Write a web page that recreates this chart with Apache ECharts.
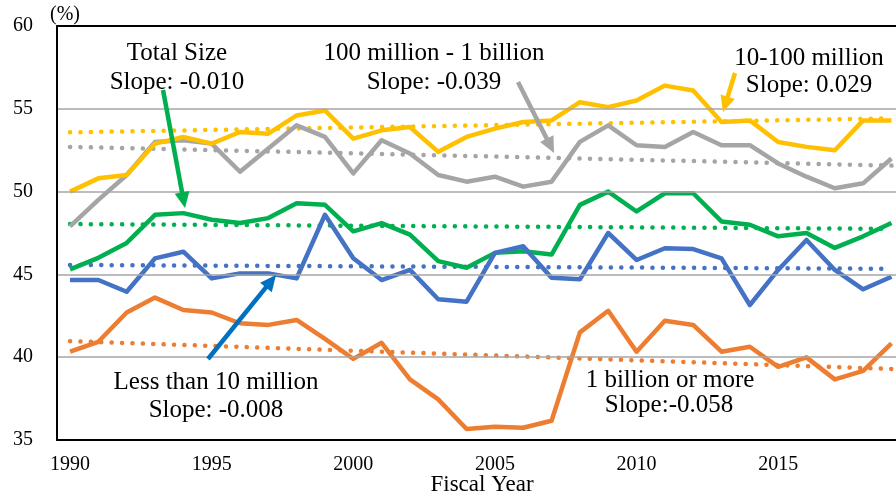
<!DOCTYPE html>
<html>
<head>
<meta charset="utf-8">
<title>Share by capital size, fiscal years 1990-2019</title>
<script src="https://cdn.jsdelivr.net/npm/echarts@6/dist/echarts.min.js"></script>
<style>
  html, body { margin: 0; padding: 0; background: #fff; }
  #chart { width: 896px; height: 500px; }
</style>
</head>
<body>
<div id="chart"></div>
<script>
// Fiscal years on the horizontal axis
const years = [1990, 1991, 1992, 1993, 1994, 1995, 1996, 1997, 1998, 1999,
               2000, 2001, 2002, 2003, 2004, 2005, 2006, 2007, 2008, 2009,
               2010, 2011, 2012, 2013, 2014, 2015, 2016, 2017, 2018, 2019];

// Labelled years and vertical axis ticks (%)
const xTickYears = [1990, 1995, 2000, 2005, 2010, 2015];
const yTicks = [35, 40, 45, 50, 55, 60];

// Shares by capital size (%)
const tenToHundredMillion = [50.0, 50.8, 51.0, 52.9, 53.3, 52.9, 53.6, 53.5, 54.6, 54.9,
                             53.2, 53.7, 53.9, 52.4, 53.3, 53.8, 54.2, 54.3, 55.4, 55.1,
                             55.5, 56.4, 56.1, 54.2, 54.3, 53.0, 52.7, 52.5, 54.3, 54.3];
const hundredMillionToBillion = [47.9, 49.5, 51.0, 53.0, 53.1, 52.9, 51.2, 52.6, 54.0, 53.3,
                                 51.1, 53.1, 52.3, 51.0, 50.6, 50.9, 50.3, 50.6, 53.0, 54.0,
                                 52.8, 52.7, 53.6, 52.8, 52.8, 51.7, 50.9, 50.2, 50.5, 52.0];
const totalSize = [45.3, 46.0, 46.9, 48.6, 48.7, 48.3, 48.1, 48.4, 49.3, 49.2,
                   47.6, 48.1, 47.4, 45.8, 45.4, 46.3, 46.4, 46.2, 49.2, 50.0,
                   48.8, 49.9, 49.9, 48.2, 48.0, 47.3, 47.5, 46.6, 47.3, 48.1];
const lessThanTenMillion = [44.66, 44.66, 43.95, 45.97, 46.37, 44.76, 45.06, 45.06, 44.76, 48.6,
                            45.97, 44.66, 45.27, 43.5, 43.35, 46.3, 46.7, 44.8, 44.7, 47.5,
                            45.87, 46.58, 46.53, 45.97, 43.15, 45.27, 47.08, 45.27, 44.1, 44.86];
const billionOrMore = [40.33, 40.93, 42.7, 43.6, 42.85, 42.7, 42.05, 41.95, 42.25, 41.1,
                       39.9, 40.87, 38.66, 37.45, 35.66, 35.8, 35.74, 36.16, 41.5, 42.8,
                       40.33, 42.2, 41.95, 40.33, 40.63, 39.42, 39.99, 38.66, 39.18, 40.83];

// Linear trend values at the first and last fiscal year
const trendTenToHundred = [53.58, 54.42];
const trendHundredToBillion = [52.70, 51.57];
const trendTotal = [48.04, 47.75];
const trendLessThanTen = [45.57, 45.34];
const trendBillionOrMore = [40.97, 39.29];

// Horizontal extent of the plot (half a year of padding on the left)
const X_MIN = 1989.54;
const X_MAX = 2019.16;

const COLORS = {
  yellow: '#FFC000',
  gray: '#A5A5A5',
  green: '#00B050',
  blue: '#4472C4',
  orange: '#ED7D31',
  arrowBlue: '#0070C0'
};

const FONT = '"Liberation Serif", "DejaVu Serif", serif';

function pairs(values) {
  return values.map((v, i) => [years[i], v]);
}

function solid(name, values, color) {
  return {
    name, type: 'line', data: pairs(values), symbol: 'none', z: 3,
    lineStyle: { color, width: 4.5, join: 'round' },
    emphasis: { disabled: true }
  };
}

function trend(name, ends, color) {
  return {
    name, type: 'line', symbol: 'none', z: 2,
    data: [[years[0], ends[0]], [years[years.length - 1], ends[1]]],
    lineStyle: { color, width: 4.5, type: [0.1, 10.3], cap: 'round' },
    emphasis: { disabled: true }
  };
}

// Arrow: a shaft plus a triangular head, in pixel space
function arrow(x1, y1, x2, y2, color) {
  const dx = x2 - x1, dy = y2 - y1;
  const len = Math.sqrt(dx * dx + dy * dy);
  const ux = dx / len, uy = dy / len;
  const headLen = 16, headHalf = 7.5;
  const bx = x2 - ux * headLen, by = y2 - uy * headLen;
  return [
    {
      type: 'line', silent: true, z: 20,
      shape: { x1, y1, x2: bx + ux * 1, y2: by + uy * 1 },
      style: { stroke: color, lineWidth: 4.5 }
    },
    {
      type: 'polygon', silent: true, z: 20,
      shape: { points: [[x2, y2], [bx - uy * headHalf, by + ux * headHalf], [bx + uy * headHalf, by - ux * headHalf]] },
      style: { fill: color }
    }
  ];
}

function label(text, x, y, size) {
  return {
    type: 'text', silent: true, z: 21,
    style: {
      text, x, y,
      font: (size || 25) + 'px ' + FONT,
      fill: '#000',
      textAlign: 'center', align: 'center',
      textVerticalAlign: 'middle', verticalAlign: 'middle'
    }
  };
}

const chart = echarts.init(document.getElementById('chart'), null, { renderer: 'canvas' });

chart.setOption({
  animation: false,
  backgroundColor: '#fff',
  grid: { left: 57, top: 26, right: 0, height: 414, containLabel: false },
  xAxis: [
    {
      type: 'value', min: X_MIN, max: X_MAX, position: 'bottom', z: 5,
      axisLine: { show: true, onZero: false, lineStyle: { color: '#000', width: 2 } },
      axisTick: { show: false },
      axisLabel: {
        customValues: xTickYears, margin: 15, color: '#000',
        fontFamily: FONT, fontSize: 20, formatter: v => String(v)
      },
      splitLine: { show: false }
    },
    {
      type: 'value', min: X_MIN, max: X_MAX, position: 'top', z: 5,
      axisLine: { show: true, onZero: false, lineStyle: { color: '#000', width: 2 } },
      axisTick: { show: false }, axisLabel: { show: false }, splitLine: { show: false }
    }
  ],
  yAxis: {
    type: 'value', min: yTicks[0], max: yTicks[yTicks.length - 1], interval: 5, z: 5,
    axisLine: { show: true, onZero: false, lineStyle: { color: '#000', width: 2 } },
    axisTick: { show: false },
    axisLabel: { margin: 24, color: '#000', fontFamily: FONT, fontSize: 20 },
    splitLine: { show: true, lineStyle: { color: '#A6A6A6', width: 1.5 } }
  },
  series: [
    trend('10-100 million trend', trendTenToHundred, COLORS.yellow),
    trend('100 million - 1 billion trend', trendHundredToBillion, COLORS.gray),
    trend('Total Size trend', trendTotal, COLORS.green),
    trend('Less than 10 million trend', trendLessThanTen, COLORS.blue),
    trend('1 billion or more trend', trendBillionOrMore, COLORS.orange),
    solid('100 million - 1 billion', hundredMillionToBillion, COLORS.gray),
    solid('10-100 million', tenToHundredMillion, COLORS.yellow),
    solid('Total Size', totalSize, COLORS.green),
    solid('Less than 10 million', lessThanTenMillion, COLORS.blue),
    solid('1 billion or more', billionOrMore, COLORS.orange)
  ],
  graphic: [
    label('(%)', 65, 15, 20),
    label('Fiscal Year', 482, 485, 23),
    label('Total Size', 177, 53),
    label('Slope: -0.010', 177, 82),
    label('100 million - 1 billion', 434, 53),
    label('Slope: -0.039', 434, 82),
    label('10-100 million', 809, 58),
    label('Slope: 0.029', 809, 85),
    label('Less than 10 million', 216, 382),
    label('Slope: -0.008', 216, 410),
    label('1 billion or more', 670, 380),
    label('Slope:-0.058', 669, 405),
    ...arrow(163, 90, 185, 208, COLORS.green),
    ...arrow(518, 82, 554, 153, COLORS.gray),
    ...arrow(735, 73, 723, 112, COLORS.yellow),
    ...arrow(208, 359, 276, 275, COLORS.arrowBlue)
  ]
});
</script>
</body>
</html>
